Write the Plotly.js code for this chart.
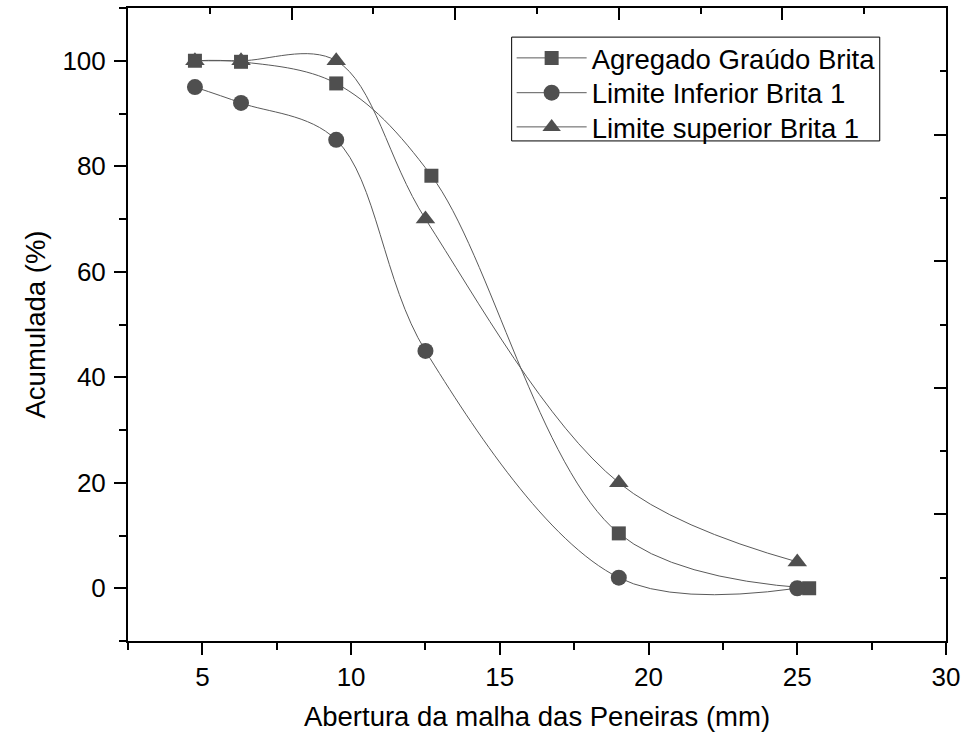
<!DOCTYPE html>
<html>
<head>
<meta charset="utf-8">
<script src="https://cdn.plot.ly/plotly-3.0.1.min.js"></script>
<style>html,body{margin:0;padding:0;background:#fff;}#chart{width:972px;height:736px;}</style>
</head>
<body>
<div id="chart"></div>
<script>
// Data
const seriesNames = ["Agregado Graúdo Brita", "Limite Inferior Brita 1", "Limite superior Brita 1"];
const agregadoX = [4.75, 6.3, 9.5, 12.7, 19, 25.4];
const agregadoY = [100, 99.8, 95.7, 78.2, 10.4, 0];
const limInfX = [4.75, 6.3, 9.5, 12.5, 19, 25];
const limInfY = [95, 92, 85, 45, 2, 0];
const limSupX = [4.75, 6.3, 9.5, 12.5, 19, 25];
const limSupY = [100, 100, 100, 70, 20, 5];
const xTickVals = [5, 10, 15, 20, 25, 30];
const yTickVals = [0, 20, 40, 60, 80, 100];

const FONT = "Liberation Sans, Arial, sans-serif";
const markerColor = "#4f4f4f";
const lineColor = "#5a5a5a";

function series(x, y, name, symbol, size, legendId) {
  return {
    x: x, y: y, name: name, type: "scatter", mode: "lines+markers",
    line: {shape: "spline", smoothing: 1, color: lineColor, width: 1},
    marker: {symbol: symbol, size: size, color: markerColor, line: {width: 0}},
    xaxis: "x", yaxis: "y", legend: legendId
  };
}

const traces = [
  series(agregadoX, agregadoY, seriesNames[0], "square", 14, "legend"),
  series(limInfX, limInfY, seriesNames[1], "circle", 16, "legend2"),
  series(limSupX, limSupY, seriesNames[2], "triangle-up", 17, "legend3"),
  {x: [], y: [], xaxis: "x2", yaxis: "y2", showlegend: false, hoverinfo: "skip", type: "scatter", mode: "markers"}
];

const axisCommon = {
  showline: true, linecolor: "#000", linewidth: 2,
  showgrid: false, zeroline: false,
  tickcolor: "#000", tickwidth: 2,
  tickfont: {family: FONT, size: 26, color: "#000"}
};

function legendAt(yc) {
  return {
    x: 0.469, y: yc, xanchor: "left", yanchor: "middle",
    bgcolor: "rgba(0,0,0,0)", borderwidth: 0,
    font: {family: FONT, size: 27.5, color: "#000"},
    itemwidth: 70
  };
}

const layout = {
  width: 972, height: 736,
  margin: {l: 128, r: 26, t: 8, b: 95},
  paper_bgcolor: "#fff", plot_bgcolor: "#fff",
  font: {family: FONT, color: "#000"},
  showlegend: true,
  legend: legendAt(0.921),
  legend2: legendAt(0.866),
  legend3: legendAt(0.812),
  shapes: [{
    type: "rect", xref: "paper", yref: "paper",
    x0: 0.469, x1: 0.919, y0: 0.790, y1: 0.954,
    line: {color: "#000", width: 1}, fillcolor: "rgba(0,0,0,0)", layer: "above"
  }],
  xaxis: Object.assign({}, axisCommon, {
    range: [2.5, 30], autorange: false,
    tickmode: "array", tickvals: xTickVals, ticktext: xTickVals.map(String),
    ticks: "outside", ticklen: 12,
    minor: {dtick: 2.5, tick0: 0, ticks: "outside", ticklen: 7, tickwidth: 2, tickcolor: "#000"},
    title: {text: "Abertura da malha das Peneiras (mm)", font: {family: FONT, size: 27.5, color: "#000"}, standoff: 16}
  }),
  yaxis: Object.assign({}, axisCommon, {
    range: [-10, 110], autorange: false,
    tickmode: "array", tickvals: yTickVals, ticktext: yTickVals.map(String),
    ticks: "outside", ticklen: 12, ticklabelstandoff: 3,
    minor: {dtick: 10, tick0: 0, ticks: "outside", ticklen: 7, tickwidth: 2, tickcolor: "#000"},
    title: {text: "Acumulada (%)", font: {family: FONT, size: 27.5, color: "#000"}, standoff: 9}
  }),
  xaxis2: {
    overlaying: "x", side: "top", anchor: "y",
    range: [0, 10], autorange: false,
    showline: true, linecolor: "#000", linewidth: 2, showgrid: false, zeroline: false,
    ticks: "inside", ticklen: 12, tickwidth: 2, tickcolor: "#000", dtick: 2, tick0: 0,
    showticklabels: false,
    minor: {dtick: 1, ticks: "inside", ticklen: 6, tickwidth: 2, tickcolor: "#000"}
  },
  yaxis2: {
    overlaying: "y", side: "right", anchor: "x",
    range: [0, 10], autorange: false,
    showline: true, linecolor: "#000", linewidth: 2, showgrid: false, zeroline: false,
    ticks: "inside", ticklen: 12, tickwidth: 2, tickcolor: "#000", dtick: 2, tick0: 0,
    showticklabels: false,
    minor: {dtick: 1, ticks: "inside", ticklen: 6, tickwidth: 2, tickcolor: "#000"}
  }
};

Plotly.newPlot("chart", traces, layout, {displayModeBar: false, staticPlot: true});
</script>
</body>
</html>
